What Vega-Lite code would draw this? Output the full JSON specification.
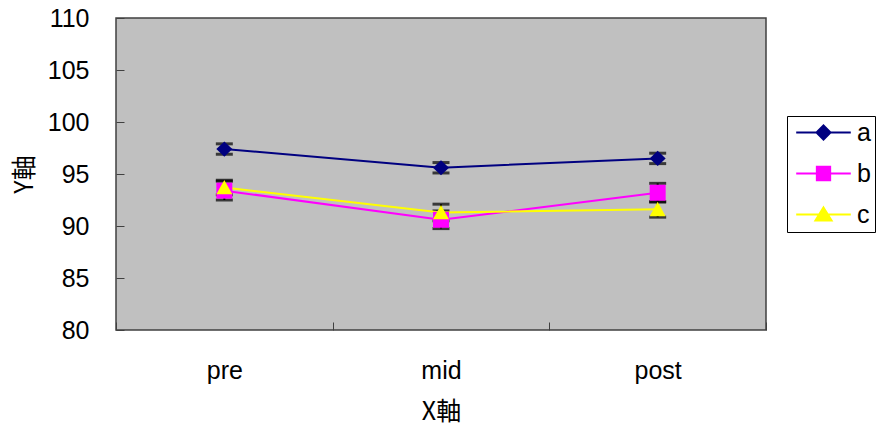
{
  "$schema": "https://vega.github.io/schema/vega-lite/v6.json",
  "autosize": {"type": "none"},
  "width": 650,
  "height": 312,
  "padding": {"left": 116, "top": 18, "right": 110, "bottom": 100},
  "background": "white",
  "config": {
    "view": {"fill": "#C0C0C0", "stroke": "#404040", "strokeWidth": 1.5},
    "font": "Liberation Sans",
    "axis": {
      "grid": false,
      "domain": false,
      "tickColor": "#404040",
      "tickWidth": 1,
      "labelColor": "black",
      "labelFontSize": 25,
      "titleFont": "Noto Sans CJK JP",
      "titleFontSize": 25,
      "titleFontWeight": "normal",
      "titleColor": "black"
    }
  },
  "data": {
    "values": [
      {"phase": "pre", "series": "a", "value": 97.4, "lo": 96.9, "hi": 97.9},
      {"phase": "mid", "series": "a", "value": 95.6, "lo": 95.1, "hi": 96.1},
      {"phase": "post", "series": "a", "value": 96.5, "lo": 96.0, "hi": 97.0},
      {"phase": "pre", "series": "b", "value": 93.4, "lo": 92.5, "hi": 94.3},
      {"phase": "mid", "series": "b", "value": 90.6, "lo": 89.75, "hi": 91.45},
      {"phase": "post", "series": "b", "value": 93.2, "lo": 92.3, "hi": 94.1},
      {"phase": "pre", "series": "c", "value": 93.7, "lo": 93.0, "hi": 94.4},
      {"phase": "mid", "series": "c", "value": 91.3, "lo": 90.5, "hi": 92.1},
      {"phase": "post", "series": "c", "value": 91.6, "lo": 90.85, "hi": 92.35}
    ]
  },
  "encoding": {
    "x": {
      "field": "phase",
      "type": "nominal",
      "sort": ["pre", "mid", "post"],
      "scale": {"type": "band", "paddingInner": 0, "paddingOuter": 0},
      "axis": {"title": "X軸", "labelAngle": 0, "tickSize": -8, "tickBand": "extent", "labelPadding": 36, "titlePadding": 16}
    }
  },
  "layer": [
    {
      "mark": {"type": "errorbar", "color": "black", "thickness": 2, "ticks": {"size": 17, "thickness": 3, "color": "black"}},
      "encoding": {
        "y": {"field": "lo", "type": "quantitative", "scale": {"domain": [80, 110]},
              "axis": {"title": "Y軸", "values": [80, 85, 90, 95, 100, 105, 110], "tickSize": -8, "labelPadding": 35, "titlePadding": 10}},
        "y2": {"field": "hi"},
        "detail": {"field": "series"}
      }
    },
    {
      "mark": {"type": "line", "strokeWidth": 2},
      "encoding": {
        "y": {"field": "value", "type": "quantitative"},
        "color": {"field": "series", "type": "nominal", "title": null,
                  "scale": {"domain": ["a", "b", "c"], "range": ["#000080", "#FF00FF", "#FFFF00"]},
                  "legend": {
                    "orient": "none", "legendX": 671, "legendY": 98,
                    "padding": 4, "rowPadding": 15, "labelOffset": 21, "symbolOffset": 20,
                    "symbolSize": 196, "symbolStrokeWidth": 2,
                    "labelFontSize": 25, "labelColor": "black",
                    "strokeColor": "black", "fillColor": "white",
                    "encode": {
                      "symbols": {
                        "update": {
                          "shape": {"signal": "datum.value == 'a' ? 'M-3.9,0H3.9M0,-1L1,0L0,1L-1,0Z' : datum.value == 'b' ? 'M-3.9,0H3.9M-0.95,-0.95H0.95V0.95H-0.95Z' : 'M-3.9,0H3.9M0,-1L1.15,0.85H-1.15Z'"},
                          "fill": {"signal": "datum.value == 'a' ? '#000080' : datum.value == 'b' ? '#FF00FF' : '#FFFF00'"},
                          "strokeWidth": {"value": 2},
                          "opacity": {"value": 1}
                        }
                      }
                    }
                  }}
      }
    },
    {
      "transform": [{"filter": "datum.series == 'a'"}],
      "mark": {"type": "point", "filled": true, "opacity": 1, "size": 256, "strokeWidth": 0, "color": "#000080", "shape": "M-1,0L0,-0.95L1,0L0,0.95Z"},
      "encoding": {"y": {"field": "value", "type": "quantitative"}}
    },
    {
      "transform": [{"filter": "datum.series == 'b'"}],
      "mark": {"type": "point", "filled": true, "opacity": 1, "size": 256, "strokeWidth": 0, "color": "#FF00FF", "shape": "M-1,-1H1V1H-1Z"},
      "encoding": {"y": {"field": "value", "type": "quantitative"}}
    },
    {
      "transform": [{"filter": "datum.series == 'c'"}],
      "mark": {"type": "point", "filled": true, "opacity": 1, "size": 256, "strokeWidth": 0, "color": "#FFFF00", "shape": "M0,-0.95L1,0.85H-1Z"},
      "encoding": {"y": {"field": "value", "type": "quantitative"}}
    }
  ]
}
